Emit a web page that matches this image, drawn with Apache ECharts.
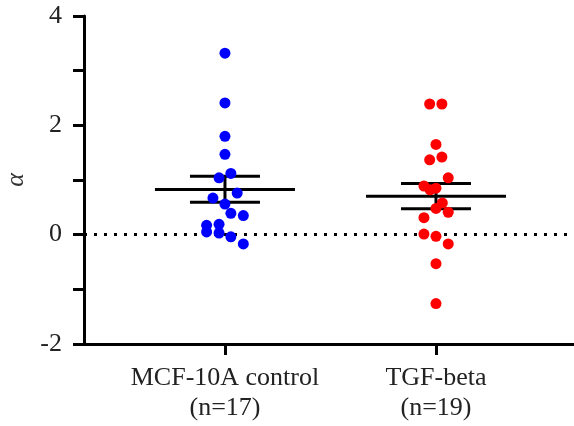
<!DOCTYPE html>
<html><head><meta charset="utf-8">
<script src="https://cdn.jsdelivr.net/npm/echarts@6/dist/echarts.min.js"></script>
<style>html,body{margin:0;padding:0;background:#fff}#c{width:574px;height:426px}</style>
</head><body><div id="c"></div>
<script>
const categories = ['MCF-10A control\n(n=17)', 'TGF-beta\n(n=19)'];
const yTicks = [-2, 0, 2, 4];
// jittered x positions (category index units) and values
const controlX = [1, 1, 1, 1, 1.028, 0.972, 1.058, 0.943, 1, 1.028, 1.087, 0.913, 0.972, 0.913, 0.972, 1.028, 1.087];
const controlY = [3.32, 2.41, 1.80, 1.47, 1.12, 1.04, 0.76, 0.67, 0.56, 0.39, 0.35, 0.17, 0.19, 0.05, 0.03, -0.04, -0.17];
const tgfX = [1.97, 2.028, 2, 1.97, 2.028, 2.058, 1.943, 1.972, 2, 2.03, 2, 2.058, 1.943, 1.943, 2, 2.058, 2, 2];
const tgfY = [2.39, 2.39, 1.65, 1.37, 1.42, 1.04, 0.89, 0.82, 0.85, 0.58, 0.48, 0.41, 0.31, 0.01, -0.03, -0.17, -0.53, -1.26];
const means = [0.824, 0.701];
const semLow = [0.592, 0.476];
const semHigh = [1.068, 0.934];

const chart = echarts.init(document.getElementById('c'));
const font = 'Liberation Serif, Times New Roman, serif';
const errData = means.map((m, i) => [i + 1, m, semLow[i], semHigh[i]]);
chart.setOption({
  animation: false,
  grid: {left: 84, right: 0, top: 16, bottom: 82, containLabel: false, outerBoundsMode: 'none'},
  xAxis: {
    type: 'value', min: 0.332, max: 2.654,
    splitLine: {show: false},
    axisLine: {onZero: false, lineStyle: {color: '#000', width: 3}},
    axisTick: {show: true, length: 11, lineStyle: {color: '#000', width: 3}, customValues: [1, 2]},
    axisLabel: {customValues: [1, 2], formatter: v => categories[Math.round(v) - 1] || '',
      fontFamily: font, fontSize: 26, color: '#222', lineHeight: 30, margin: 19}
  },
  yAxis: {
    type: 'value', min: -2, max: 4, interval: 1,
    name: 'α', nameLocation: 'middle', nameGap: 46,
    nameTextStyle: {fontFamily: font, fontStyle: 'italic', fontSize: 26, color: '#333'},
    splitLine: {show: false},
    axisLine: {onZero: false, lineStyle: {color: '#000', width: 3}},
    axisTick: {length: 11, lineStyle: {color: '#000', width: 3}},
    axisLabel: {formatter: v => yTicks.includes(v) ? String(v) : '', fontFamily: font, fontSize: 26, color: '#222', margin: 22}
  },
  series: [
    {
      type: 'line', data: [], silent: true,
      markLine: {symbol: 'none', silent: true, label: {show: false},
        lineStyle: {color: '#000', width: 3, type: [3, 7]},
        data: [{yAxis: 0}]}
    },
    {
      type: 'custom', z: 3, data: errData,
      renderItem: function (params, api) {
        const x = api.value(0);
        const c = api.coord([x, api.value(1)]);
        const lo = api.coord([x, api.value(2)]);
        const hi = api.coord([x, api.value(3)]);
        const st = {stroke: '#000', lineWidth: 3};
        return {type: 'group', children: [
          {type: 'line', shape: {x1: c[0] - 70, y1: c[1], x2: c[0] + 70, y2: c[1]}, style: st},
          {type: 'line', shape: {x1: lo[0] - 35, y1: lo[1], x2: lo[0] + 35, y2: lo[1]}, style: st},
          {type: 'line', shape: {x1: hi[0] - 35, y1: hi[1], x2: hi[0] + 35, y2: hi[1]}, style: st},
          {type: 'line', shape: {x1: lo[0], y1: lo[1], x2: hi[0], y2: hi[1]}, style: st}
        ]};
      }
    },
    {type: 'scatter', z: 5, symbolSize: 11, itemStyle: {color: '#0000ff', opacity: 1},
      data: controlX.map((x, i) => [x, controlY[i]])},
    {type: 'scatter', z: 5, symbolSize: 11, itemStyle: {color: '#ff0000', opacity: 1},
      data: tgfX.map((x, i) => [x, tgfY[i]])}
  ]
});
</script></body></html>
